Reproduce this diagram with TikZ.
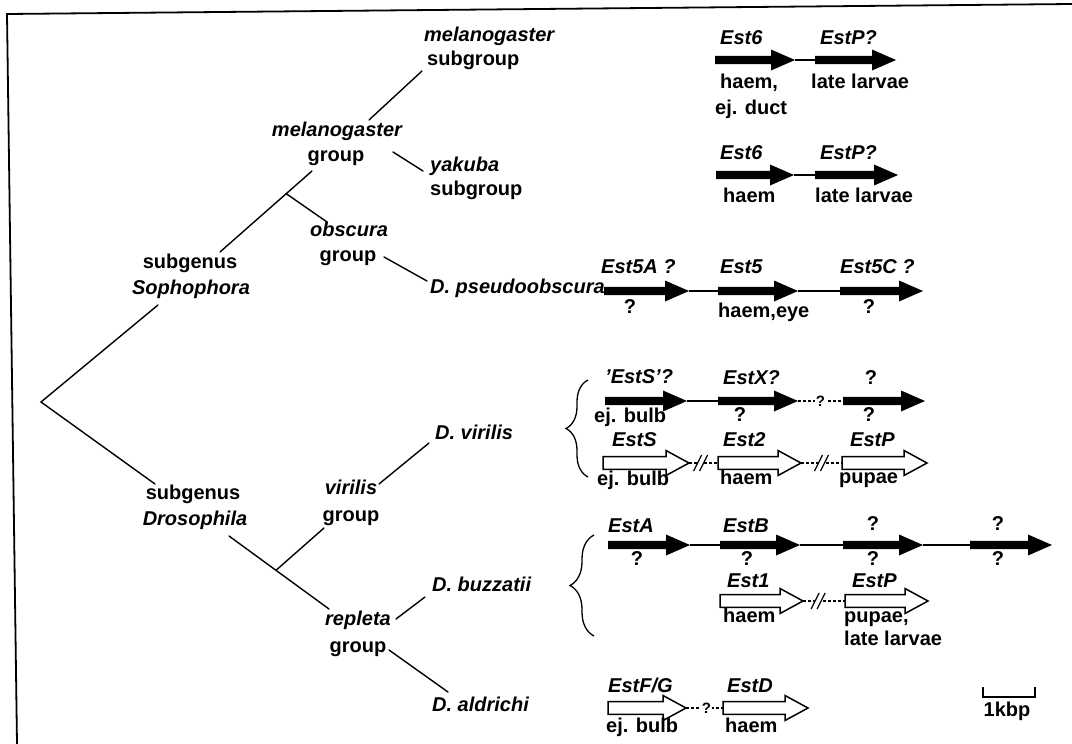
\documentclass[tikz,border=0pt]{standalone}
\usepackage{fontspec}
\setmainfont{Liberation Sans}
\usetikzlibrary{decorations.pathreplacing,calc}

\tikzset{
  lab/.style={inner sep=0pt, font=\bfseries\fontsize{20}{24}\selectfont, text=black},
  lw/.style={lab, anchor=mid west},
  lc/.style={lab, anchor=mid},
  qmark/.style={fill=white, inner sep=0.6pt, font=\bfseries\fontsize{15}{15}\selectfont},
  branch/.style={line width=1.4pt, line cap=round},
  link/.style={line width=1.2pt},
  gapline/.style={line width=1.2pt, dash pattern=on 3pt off 2pt},
  framestyle/.style={line width=1.8pt},
  bracestyle/.style={line width=1.3pt, decorate, decoration={brace, amplitude=#1}},
}

% filled gene arrow: name, x start, x tip, y
\newcommand{\blackgene}[4]{%
  \coordinate (#1-s) at (#2,#4);
  \coordinate (#1-e) at (#3,#4);
  \fill (#2,#4-4.2) -- (#3-24,#4-4.2) -- (#3-24,#4-10.5) -- (#3,#4)
        -- (#3-24,#4+10.5) -- (#3-24,#4+4.2) -- (#2,#4+4.2) -- cycle;
}
% outlined gene arrow: name, x start, x tip, y
\newcommand{\whitegene}[4]{%
  \coordinate (#1-s) at (#2,#4);
  \coordinate (#1-e) at (#3,#4);
  \draw[fill=white, line width=1.5pt, line join=miter]
        (#2,#4-6.3) -- (#3-23,#4-6.3) -- (#3-23,#4-12.5) -- (#3,#4)
        -- (#3-23,#4+12.5) -- (#3-23,#4+6.3) -- (#2,#4+6.3) -- cycle;
}
% "//" interruption mark on a dashed link
\newcommand{\breakmark}[1]{%
  \fill[white] ($(#1)+(-7,8)$) -- ($(#1)+(1,-8)$) -- ($(#1)+(7,-8)$) -- ($(#1)+(-1,8)$) -- cycle;
  \draw[link] ($(#1)+(-7,8)$) -- ($(#1)+(1,-8)$);
  \draw[link] ($(#1)+(-1,8)$) -- ($(#1)+(7,-8)$);
}

\begin{document}
\begin{tikzpicture}[x=1pt, y=-1pt]
\useasboundingbox (0,0) rectangle (1072,744);

% frame (top and left edges)
\coordinate (fcorner) at (7,14);
\coordinate (ftop) at (1072,4);
\coordinate (fleft) at (17,744);
\draw[framestyle] (ftop) -- (fcorner) -- (fleft);

% ---------- tree labels ----------
\node[lw] (melsubA) at (424,39) {\itshape melanogaster};
\node[lw] (melsubB) at (427,63) {subgroup};
\node[lc] (melgrA) at (337,134) {\itshape melanogaster};
\node[lc] (melgrB) at (336,159) {group};
\node[lw] (yakA) at (430,169) {\itshape yakuba};
\node[lw] (yakB) at (430,193) {subgroup};
\node[lc] (obsA) at (349,234) {\itshape obscura};
\node[lc] (obsB) at (348,259) {group};
\node[lc] (sophA) at (190,266) {subgenus};
\node[lc] (sophB) at (191,292) {\itshape Sophophora};
\node[lw] (pseudo) at (430,291) {\itshape D. pseudoobscura};
\node[lw] (vir) at (435,437) {\itshape D. virilis};
\node[lc] (virgrA) at (351,492) {\itshape virilis};
\node[lc] (virgrB) at (351,519) {group};
\node[lc] (drosA) at (193,497) {subgenus};
\node[lc] (drosB) at (195,523) {\itshape Drosophila};
\node[lw] (buz) at (432,589) {\itshape D. buzzatii};
\node[lc] (repA) at (358,623) {\itshape repleta};
\node[lc] (repB) at (358,650) {group};
\node[lw] (ald) at (432,709) {\itshape D. aldrichi};

% ---------- tree branches ----------
\coordinate (root) at (41,402);
\coordinate (sophIn) at (158,305);
\coordinate (sophOut) at (220,252);
\coordinate (melIn) at (312,171);
\coordinate (obsIn) at (327,222);
\coordinate (melOutA) at (369,120);
\coordinate (melsubIn) at (422,71);
\coordinate (melOutB) at (393,152);
\coordinate (yakIn) at (423,171);
\coordinate (obsOut) at (384,257);
\coordinate (pseudoIn) at (427,281);
\coordinate (drosIn) at (155,484);
\coordinate (drosOut) at (229,536);
\coordinate (repIn) at (329,609);
\coordinate (virIn) at (324,528);
\coordinate (virOut) at (379,484);
\coordinate (virspIn) at (429,443);
\coordinate (repOutA) at (396,619);
\coordinate (buzIn) at (425,597);
\coordinate (repOutB) at (389,650);
\coordinate (aldIn) at (448,692);

\path (sophOut) -- (melIn) coordinate[pos=0.72] (jsoph);
\path (drosOut) -- (repIn) coordinate[pos=0.47] (jdros);

\draw[branch] (sophIn) -- (root) -- (drosIn);
\draw[branch] (sophOut) -- (melIn);
\draw[branch] (jsoph) -- (obsIn);
\draw[branch] (melOutA) -- (melsubIn);
\draw[branch] (melOutB) -- (yakIn);
\draw[branch] (obsOut) -- (pseudoIn);
\draw[branch] (drosOut) -- (repIn);
\draw[branch] (jdros) -- (virIn);
\draw[branch] (virOut) -- (virspIn);
\draw[branch] (repOutA) -- (buzIn);
\draw[branch] (repOutB) -- (aldIn);

% ---------- melanogaster subgroup ----------
\blackgene{a1}{715}{795}{60}
\blackgene{a2}{815}{896}{60}
\draw[link] (a1-e) -- (a2-s);
\node[lw] (a1n) at (720,42) {\itshape Est6};
\node[lw] (a2n) at (820,42) {\itshape EstP?};
\node[lw] (a1x) at (720,86) {haem,};
\node[lw] (a1y) at (715,112) {ej. duct};
\node[lw] (a2x) at (811,86) {late larvae};

% ---------- yakuba subgroup ----------
\blackgene{b1}{716}{794}{175}
\blackgene{b2}{815}{898}{175}
\draw[link] (b1-e) -- (b2-s);
\node[lw] (b1n) at (720,157) {\itshape Est6};
\node[lw] (b2n) at (820,157) {\itshape EstP?};
\node[lw] (b1x) at (723,200) {haem};
\node[lw] (b2x) at (815,200) {late larvae};

% ---------- D. pseudoobscura ----------
\blackgene{c1}{604}{689}{291}
\blackgene{c2}{718}{798}{291}
\blackgene{c3}{840}{923}{291}
\draw[link] (c1-e) -- (c2-s);
\draw[link] (c2-e) -- (c3-s);
\node[lw] (c1n) at (601,271) {\itshape Est5A ?};
\node[lw] (c2n) at (720,271) {\itshape Est5};
\node[lw] (c3n) at (840,271) {\itshape Est5C ?};
\node[lc] (c1x) at (630,311) {?};
\node[lw] (c2x) at (718,315) {haem,eye};
\node[lc] (c3x) at (869,311) {?};

% ---------- D. virilis ----------
\draw[bracestyle=22pt] (588,477) -- (588,380);
\blackgene{d1}{605}{687}{401}
\blackgene{d2}{718}{798}{401}
\blackgene{d3}{843}{925}{401}
\draw[link] (d1-e) -- (d2-s);
\draw[gapline] (d2-e) -- node[qmark] (dq) {?} (d3-s);
\node[lw] (d1n) at (605,381) {\itshape 'EstS'?};
\node[lw] (d2n) at (723,382) {\itshape EstX?};
\node[lc] (d3n) at (871,382) {?};
\node[lw] (d1x) at (594,420) {ej. bulb};
\node[lc] (d2x) at (740,419) {?};
\node[lc] (d3x) at (869,419) {?};

\whitegene{e1}{603}{689}{463}
\whitegene{e2}{718}{801}{463}
\whitegene{e3}{842}{927}{463}
\draw[gapline] (e1-e) -- (e2-s);
\draw[gapline] (e2-e) -- (e3-s);
\path (e1-e) -- (e2-s) coordinate[pos=0.4] (eb1);
\path (e2-e) -- (e3-s) coordinate[pos=0.5] (eb2);
\breakmark{eb1}
\breakmark{eb2}
\node[lw] (e1n) at (612,444) {\itshape EstS};
\node[lw] (e2n) at (723,444) {\itshape Est2};
\node[lw] (e3n) at (850,444) {\itshape EstP};
\node[lw] (e1x) at (597,483) {ej. bulb};
\node[lw] (e2x) at (720,482) {haem};
\node[lw] (e3x) at (839,481) {pupae};

% ---------- D. buzzatii ----------
\draw[bracestyle=24pt] (594,636) -- (594,535);
\blackgene{f1}{608}{690}{545}
\blackgene{f2}{720}{800}{545}
\blackgene{f3}{843}{923}{545}
\blackgene{f4}{970}{1052}{545}
\draw[link] (f1-e) -- (f2-s);
\draw[link] (f2-e) -- (f3-s);
\draw[link] (f3-e) -- (f4-s);
\node[lw] (f1n) at (608,530) {\itshape EstA};
\node[lw] (f2n) at (723,530) {\itshape EstB};
\node[lc] (f3n) at (873,528) {?};
\node[lc] (f4n) at (998,528) {?};
\node[lc] (f1x) at (637,563) {?};
\node[lc] (f2x) at (747,563) {?};
\node[lc] (f3x) at (873,563) {?};
\node[lc] (f4x) at (998,563) {?};

\whitegene{g1}{720}{803}{601}
\whitegene{g2}{845}{928}{601}
\draw[gapline] (g1-e) -- (g2-s);
\path (g1-e) -- (g2-s) coordinate[pos=0.36] (gb1);
\breakmark{gb1}
\node[lw] (g1n) at (727,585) {\itshape Est1};
\node[lw] (g2n) at (852,585) {\itshape EstP};
\node[lw] (g1x) at (723,620) {haem};
\node[lw] (g2x) at (844,620) {pupae,};
\node[lw] (g2y) at (844,643) {late larvae};

% ---------- D. aldrichi ----------
\whitegene{h1}{608}{686}{708}
\whitegene{h2}{723}{808}{708}
\draw[gapline] (h1-e) -- node[qmark, pos=0.55] (hq) {?} (h2-s);
\node[lw] (h1n) at (608,690) {\itshape EstF/G};
\node[lw] (h2n) at (727,690) {\itshape EstD};
\node[lw] (h1x) at (606,730) {ej. bulb};
\node[lw] (h2x) at (725,730) {haem};

% ---------- scale bar ----------
\coordinate (sbL) at (983,687);
\coordinate (sbLb) at (983,697);
\coordinate (sbRb) at (1035,697);
\coordinate (sbR) at (1035,687);
\draw[line width=1.5pt] (sbL) -- (sbLb) -- (sbRb) -- (sbR);
\node[lc] (sbtext) at (1007,714) {1kbp};
\end{tikzpicture}
\end{document}
